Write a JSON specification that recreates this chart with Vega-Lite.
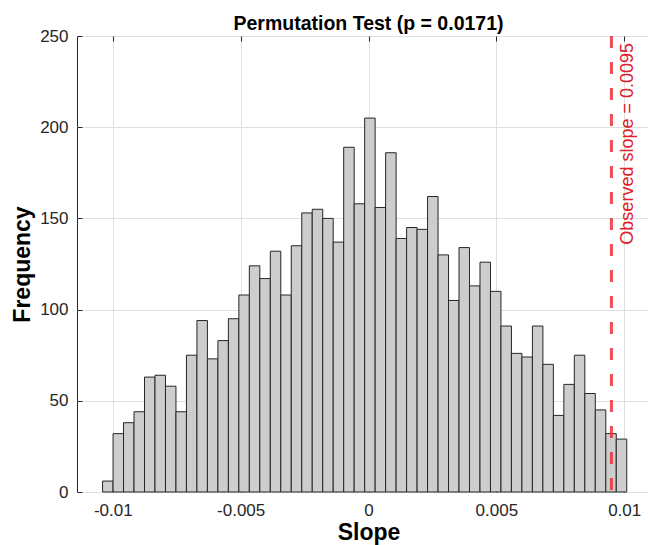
{
  "$schema": "https://vega.github.io/schema/vega-lite/v6.json",
  "width": 583,
  "height": 456,
  "autosize": {"type": "none"},
  "padding": {"left": 77, "top": 36, "right": 0, "bottom": 53},
  "background": "white",
  "title": {"text": "Permutation Test (p = 0.0171)", "font": "Liberation Sans", "fontSize": 19.5, "fontWeight": "bold", "color": "#000000", "offset": -7, "anchor": "middle"},
  "config": {"view": {"stroke": "#262626", "strokeWidth": 1}},
  "datasets": {
    "hist": [
      {"bin_start": -0.0104, "bin_end": -0.00999, "count": 6},
      {"bin_start": -0.00999, "bin_end": -0.00958, "count": 32},
      {"bin_start": -0.00958, "bin_end": -0.00917, "count": 38},
      {"bin_start": -0.00917, "bin_end": -0.00876, "count": 44},
      {"bin_start": -0.00876, "bin_end": -0.00835, "count": 63},
      {"bin_start": -0.00835, "bin_end": -0.00794, "count": 64},
      {"bin_start": -0.00794, "bin_end": -0.00753, "count": 58},
      {"bin_start": -0.00753, "bin_end": -0.00712, "count": 44},
      {"bin_start": -0.00712, "bin_end": -0.00671, "count": 75},
      {"bin_start": -0.00671, "bin_end": -0.0063, "count": 94},
      {"bin_start": -0.0063, "bin_end": -0.00589, "count": 73},
      {"bin_start": -0.00589, "bin_end": -0.00548, "count": 83},
      {"bin_start": -0.00548, "bin_end": -0.00507, "count": 95},
      {"bin_start": -0.00507, "bin_end": -0.00466, "count": 108},
      {"bin_start": -0.00466, "bin_end": -0.00425, "count": 124},
      {"bin_start": -0.00425, "bin_end": -0.00384, "count": 117},
      {"bin_start": -0.00384, "bin_end": -0.00343, "count": 132},
      {"bin_start": -0.00343, "bin_end": -0.00302, "count": 108},
      {"bin_start": -0.00302, "bin_end": -0.00261, "count": 135},
      {"bin_start": -0.00261, "bin_end": -0.0022, "count": 153},
      {"bin_start": -0.0022, "bin_end": -0.00179, "count": 155},
      {"bin_start": -0.00179, "bin_end": -0.00138, "count": 150},
      {"bin_start": -0.00138, "bin_end": -0.00097, "count": 137},
      {"bin_start": -0.00097, "bin_end": -0.00056, "count": 189},
      {"bin_start": -0.00056, "bin_end": -0.00015, "count": 158},
      {"bin_start": -0.00015, "bin_end": 0.00026, "count": 205},
      {"bin_start": 0.00026, "bin_end": 0.00067, "count": 156},
      {"bin_start": 0.00067, "bin_end": 0.00108, "count": 186},
      {"bin_start": 0.00108, "bin_end": 0.00149, "count": 139},
      {"bin_start": 0.00149, "bin_end": 0.0019, "count": 145},
      {"bin_start": 0.0019, "bin_end": 0.00231, "count": 144},
      {"bin_start": 0.00231, "bin_end": 0.00272, "count": 162},
      {"bin_start": 0.00272, "bin_end": 0.00313, "count": 130},
      {"bin_start": 0.00313, "bin_end": 0.00354, "count": 105},
      {"bin_start": 0.00354, "bin_end": 0.00395, "count": 134},
      {"bin_start": 0.00395, "bin_end": 0.00436, "count": 113},
      {"bin_start": 0.00436, "bin_end": 0.00477, "count": 126},
      {"bin_start": 0.00477, "bin_end": 0.00518, "count": 110},
      {"bin_start": 0.00518, "bin_end": 0.00559, "count": 91},
      {"bin_start": 0.00559, "bin_end": 0.006, "count": 76},
      {"bin_start": 0.006, "bin_end": 0.00641, "count": 74},
      {"bin_start": 0.00641, "bin_end": 0.00682, "count": 91},
      {"bin_start": 0.00682, "bin_end": 0.00723, "count": 70},
      {"bin_start": 0.00723, "bin_end": 0.00764, "count": 42},
      {"bin_start": 0.00764, "bin_end": 0.00805, "count": 59},
      {"bin_start": 0.00805, "bin_end": 0.00846, "count": 75},
      {"bin_start": 0.00846, "bin_end": 0.00887, "count": 54},
      {"bin_start": 0.00887, "bin_end": 0.00928, "count": 45},
      {"bin_start": 0.00928, "bin_end": 0.00969, "count": 32},
      {"bin_start": 0.00969, "bin_end": 0.0101, "count": 29}
    ],
    "obs": [
      {"slope": 0.0095, "label": "Observed slope = 0.0095"}
    ]
  },
  "layer": [
    {
      "data": {"name": "hist"},
      "mark": {"type": "rect", "fill": "#cdcdcd", "stroke": "#262626", "strokeWidth": 1},
      "encoding": {
        "x": {
          "field": "bin_start", "type": "quantitative",
          "scale": {"domain": [-0.0114, 0.0114], "nice": false, "zero": false},
          "axis": {
            "values": [-0.01, -0.005, 0, 0.005, 0.01],
            "labelExpr": "'' + datum.value",
            "labelFont": "Liberation Sans", "labelFontSize": 17, "labelColor": "#262626",
            "labelPadding": 15,
            "grid": true, "gridColor": "#dfdfdf", "domain": false,
            "ticks": true, "tickSize": -5, "tickColor": "#262626",
            "title": "Slope", "titleFont": "Liberation Sans", "titleFontSize": 23, "titleFontWeight": "bold", "titleColor": "#000000", "titlePadding": 3
          }
        },
        "x2": {"field": "bin_end"},
        "y": {
          "field": "count", "type": "quantitative",
          "scale": {"domain": [0, 250], "nice": false},
          "axis": {
            "values": [0, 50, 100, 150, 200, 250],
            "labelFont": "Liberation Sans", "labelFontSize": 17, "labelColor": "#262626",
            "labelPadding": 14,
            "grid": true, "gridColor": "#dfdfdf", "domain": false,
            "ticks": true, "tickSize": -5, "tickColor": "#262626",
            "title": "Frequency", "titleFont": "Liberation Sans", "titleFontSize": 23, "titleFontWeight": "bold", "titleColor": "#000000", "titlePadding": 5
          }
        }
      }
    },
    {
      "data": {"name": "obs"},
      "mark": {"type": "rule", "color": "#ec2f3a", "strokeWidth": 3, "strokeDash": [12, 14], "opacity": 0.85},
      "encoding": {
        "x": {
          "field": "slope", "type": "quantitative",
          "axis": {"orient": "top", "values": [-0.01, -0.005, 0, 0.005, 0.01], "labels": false, "title": null, "grid": false, "domain": false, "ticks": true, "tickSize": -5, "tickColor": "#262626"}
        }
      }
    },
    {
      "data": {"name": "obs"},
      "mark": {"type": "text", "angle": 270, "align": "right", "baseline": "middle", "dx": -7, "dy": 17, "font": "Liberation Sans", "fontSize": 18, "color": "#e0202a"},
      "encoding": {
        "x": {"field": "slope", "type": "quantitative", "axis": null},
        "y": {"datum": 250},
        "text": {"field": "label"}
      }
    }
  ],
  "resolve": {"axis": {"x": "independent"}}
}
